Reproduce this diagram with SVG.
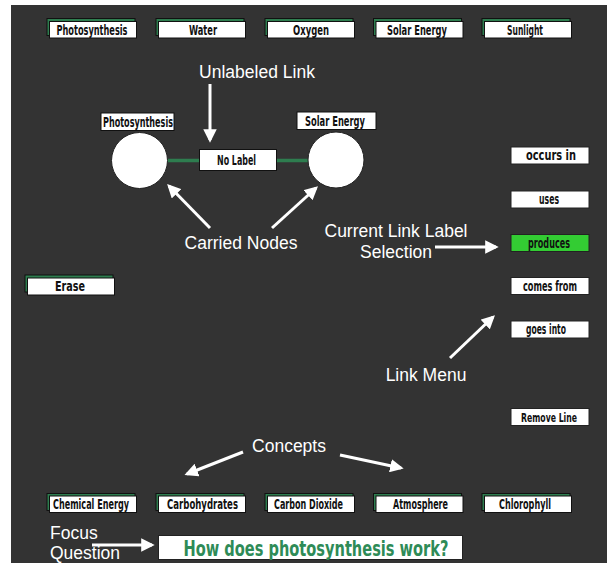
<svg xmlns="http://www.w3.org/2000/svg" width="607" height="563" viewBox="0 0 607 563">
  <style>
    .lbl { font-family: "DejaVu Sans Condensed", "Liberation Sans", sans-serif; font-weight: bold; font-size: 14px; fill: #111; text-anchor: middle; }
    .lbl.sm { font-size: 12.5px; }
    .note { font-family: "Liberation Sans", Arial, sans-serif; font-size: 17.5px; fill: #fff; text-anchor: middle; }
    .note.left { text-anchor: start; }
    .shadow { fill: #2e7d4f; stroke: #111; stroke-width: 1; }
    .card { fill: #fff; stroke: #111; stroke-width: 1; }
    .menu { fill: #fff; stroke: #222; stroke-width: 1; }
    .ptr { stroke: #fff; stroke-width: 3; fill: none; marker-end: url(#head); }
  </style>
  <defs>
    <marker id="head" viewBox="0 0 10 10" refX="8" refY="5" markerWidth="4.5" markerHeight="4.5" orient="auto" markerUnits="strokeWidth">
      <path d="M0,0 L10,5 L0,10 Z" fill="#fff"/>
    </marker>
  </defs>

  <rect x="0" y="0" width="607" height="563" fill="#fff"/>
  <rect x="11" y="5" width="596" height="558" fill="#333"/>

  <!-- concept palette, top row -->
  <g id="concept-photosynthesis"><rect class="shadow" x="47" y="18.5" width="88" height="17"/><rect class="card" x="49.5" y="21.5" width="87" height="16.5"/><text class="lbl" x="92" y="34.5" textLength="71" lengthAdjust="spacingAndGlyphs">Photosynthesis</text></g>
  <g id="concept-water"><rect class="shadow" x="156" y="18.5" width="88" height="17"/><rect class="card" x="158.5" y="21.5" width="87" height="16.5"/><text class="lbl" x="203" y="34.5" textLength="28" lengthAdjust="spacingAndGlyphs">Water</text></g>
  <g id="concept-oxygen"><rect class="shadow" x="265" y="18.5" width="88" height="17"/><rect class="card" x="267.5" y="21.5" width="87" height="16.5"/><text class="lbl" x="311" y="34.5" textLength="36" lengthAdjust="spacingAndGlyphs">Oxygen</text></g>
  <g id="concept-solar-energy"><rect class="shadow" x="373.5" y="18.5" width="88" height="17"/><rect class="card" x="376" y="21.5" width="87" height="16.5"/><text class="lbl" x="417" y="34.5" textLength="60" lengthAdjust="spacingAndGlyphs">Solar Energy</text></g>
  <g id="concept-sunlight"><rect class="shadow" x="482" y="18.5" width="88" height="17"/><rect class="card" x="484.5" y="21.5" width="87" height="16.5"/><text class="lbl" x="525" y="34.5" textLength="36" lengthAdjust="spacingAndGlyphs">Sunlight</text></g>

  <!-- concept palette, bottom row -->
  <g id="concept-chemical-energy"><rect class="shadow" x="47" y="493.5" width="88" height="17"/><rect class="card" x="49.5" y="496" width="87" height="16.5"/><text class="lbl" x="91" y="509" textLength="76" lengthAdjust="spacingAndGlyphs">Chemical Energy</text></g>
  <g id="concept-carbohydrates"><rect class="shadow" x="156" y="493.5" width="88" height="17"/><rect class="card" x="158.5" y="496" width="87" height="16.5"/><text class="lbl" x="202.5" y="509" textLength="71" lengthAdjust="spacingAndGlyphs">Carbohydrates</text></g>
  <g id="concept-carbon-dioxide"><rect class="shadow" x="265" y="493.5" width="88" height="17"/><rect class="card" x="267.5" y="496" width="87" height="16.5"/><text class="lbl" x="308.5" y="509" textLength="69" lengthAdjust="spacingAndGlyphs">Carbon Dioxide</text></g>
  <g id="concept-atmosphere"><rect class="shadow" x="373.5" y="493.5" width="88" height="17"/><rect class="card" x="376" y="496" width="87" height="16.5"/><text class="lbl" x="420.5" y="509" textLength="55" lengthAdjust="spacingAndGlyphs">Atmosphere</text></g>
  <g id="concept-chlorophyll"><rect class="shadow" x="482" y="493.5" width="88" height="17"/><rect class="card" x="484.5" y="496" width="87" height="16.5"/><text class="lbl" x="525" y="509" textLength="52" lengthAdjust="spacingAndGlyphs">Chlorophyll</text></g>

  <!-- erase button -->
  <g id="erase"><rect class="shadow" x="25" y="275" width="88" height="17"/><rect class="card" x="27.5" y="278" width="87" height="17"/><text class="lbl" x="70" y="291" textLength="30" lengthAdjust="spacingAndGlyphs">Erase</text></g>

  <!-- link between carried nodes -->
  <g id="connectors">
    <line x1="167" y1="160.5" x2="308" y2="160.5" stroke="#2e7d4f" stroke-width="3.5"/>
  </g>

  <g id="link-label"><rect x="199.5" y="149.5" width="77" height="21" fill="#fff" stroke="#111"/><text class="lbl" x="236.5" y="165" textLength="39" lengthAdjust="spacingAndGlyphs">No Label</text></g>

  <g id="node-photosynthesis">
    <circle cx="139.5" cy="160.5" r="28" fill="#fff" stroke="#222"/>
    <rect x="101" y="113" width="73" height="17.5" fill="#fff" stroke="#111"/>
    <text class="lbl" x="138" y="126.5" textLength="70" lengthAdjust="spacingAndGlyphs">Photosynthesis</text>
  </g>
  <g id="node-solar-energy">
    <circle cx="336" cy="160" r="28" fill="#fff" stroke="#222"/>
    <rect x="297" y="112" width="79" height="17.5" fill="#fff" stroke="#111"/>
    <text class="lbl" x="335" y="125.5" textLength="60" lengthAdjust="spacingAndGlyphs">Solar Energy</text>
  </g>

  <!-- link menu -->
  <g id="menu-occurs-in"><rect class="menu" x="511" y="147" width="78" height="17"/><text class="lbl" x="551" y="160" textLength="50" lengthAdjust="spacingAndGlyphs">occurs in</text></g>
  <g id="menu-uses"><rect class="menu" x="511" y="191" width="78" height="17"/><text class="lbl" x="549" y="204" textLength="20" lengthAdjust="spacingAndGlyphs">uses</text></g>
  <g id="menu-produces"><rect x="511" y="234.5" width="78" height="17" fill="#33cc33" stroke="#222"/><text class="lbl" x="549" y="247.5" textLength="42" lengthAdjust="spacingAndGlyphs">produces</text></g>
  <g id="menu-comes-from"><rect class="menu" x="511" y="277.5" width="78" height="17"/><text class="lbl" x="550" y="290.5" textLength="54" lengthAdjust="spacingAndGlyphs">comes from</text></g>
  <g id="menu-goes-into"><rect class="menu" x="511" y="321" width="78" height="17"/><text class="lbl" x="546" y="334" textLength="40" lengthAdjust="spacingAndGlyphs">goes into</text></g>
  <g id="menu-remove-line"><rect class="menu" x="511" y="408.5" width="78" height="17"/><text class="lbl sm" x="549" y="421.5" textLength="56" lengthAdjust="spacingAndGlyphs">Remove Line</text></g>

  <!-- focus question -->
  <g id="focus-question">
    <rect x="158.5" y="535.5" width="304" height="24" fill="#fff" stroke="#222"/>
    <text x="316" y="555.5" font-family="'DejaVu Sans Condensed', 'Liberation Sans', sans-serif" font-weight="bold" font-size="22" fill="#2e8b57" text-anchor="middle" textLength="265" lengthAdjust="spacingAndGlyphs">How does photosynthesis work?</text>
  </g>

  <!-- annotations -->
  <g id="annotations">
    <text class="note" x="257" y="78">Unlabeled Link</text>
    <line class="ptr" x1="210" y1="84" x2="210" y2="140"/>
    <text class="note" x="241" y="249">Carried Nodes</text>
    <line class="ptr" x1="210" y1="228" x2="169" y2="186"/>
    <line class="ptr" x1="272" y1="228" x2="316" y2="188"/>
    <text class="note" x="396" y="237">Current Link Label</text>
    <text class="note" x="396" y="258">Selection</text>
    <line class="ptr" x1="435" y1="247" x2="496" y2="247"/>
    <text class="note" x="426" y="381">Link Menu</text>
    <line class="ptr" x1="450" y1="358" x2="493" y2="317"/>
    <text class="note" x="289" y="452">Concepts</text>
    <line class="ptr" x1="243" y1="452" x2="187" y2="474"/>
    <line class="ptr" x1="340" y1="455" x2="401" y2="468"/>
    <text class="note left" x="50" y="539">Focus</text>
    <text class="note left" x="50" y="559">Question</text>
    <line class="ptr" x1="92" y1="545" x2="152" y2="545"/>
  </g>
</svg>
